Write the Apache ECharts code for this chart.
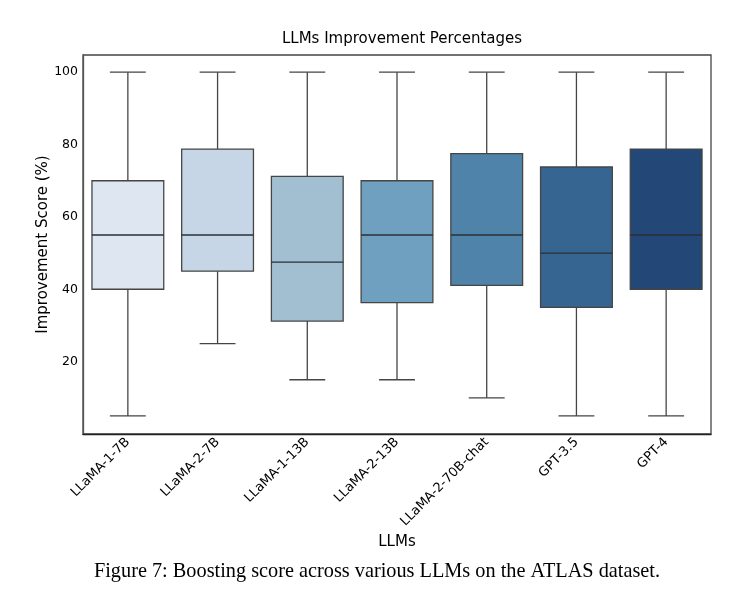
<!DOCTYPE html>
<html>
<head>
<meta charset="utf-8">
<script src="https://cdn.jsdelivr.net/npm/echarts@6/dist/echarts.min.js"></script>
<style>
  html, body { margin: 0; padding: 0; background: #fff; }
  #chart { width: 753px; height: 592px; }
</style>
</head>
<body>
<div id="chart"></div>
<script>
var categories = ['LLaMA-1-7B', 'LLaMA-2-7B', 'LLaMA-1-13B', 'LLaMA-2-13B', 'LLaMA-2-70B-chat', 'GPT-3.5', 'GPT-4'];
var lowWhisker = [5, 25, 15, 15, 10, 5, 5];
var q1 = [40, 45, 31.2, 36.3, 41.1, 35, 40];
var median = [55, 55, 47.5, 55, 55, 50, 55];
var q3 = [70, 78.75, 71.2, 70, 77.5, 73.8, 78.75];
var highWhisker = [100, 100, 100, 100, 100, 100, 100];
var boxColors = ['#dee7f1', '#c6d6e6', '#a1bfd0', '#70a0bf', '#5083a9', '#366592', '#234777'];

var lineColor = '#454545';
var font = 'DejaVu Sans';

var boxData = [];
categories.forEach(function(name, i) {
    boxData.push([i, lowWhisker[i], q1[i], median[i], q3[i], highWhisker[i]]);
});

function renderBox(params, api) {
    var i = api.value(0);
    var band = api.size([1, 0])[0];
    var boxW = band * 0.8;
    var capW = band * 0.4;
    var pLow = api.coord([i, api.value(1)]);
    var pQ1 = api.coord([i, api.value(2)]);
    var pMed = api.coord([i, api.value(3)]);
    var pQ3 = api.coord([i, api.value(4)]);
    var pHigh = api.coord([i, api.value(5)]);
    var x = pMed[0];
    var stroke = { stroke: lineColor, lineWidth: 1.3 };
    return {
        type: 'group',
        children: [
            { type: 'line', shape: { x1: x, y1: pQ1[1], x2: x, y2: pLow[1] }, style: stroke },
            { type: 'line', shape: { x1: x, y1: pQ3[1], x2: x, y2: pHigh[1] }, style: stroke },
            { type: 'line', shape: { x1: x - capW / 2, y1: pLow[1], x2: x + capW / 2, y2: pLow[1] }, style: stroke },
            { type: 'line', shape: { x1: x - capW / 2, y1: pHigh[1], x2: x + capW / 2, y2: pHigh[1] }, style: stroke },
            {
                type: 'rect',
                shape: { x: x - boxW / 2, y: pQ3[1], width: boxW, height: pQ1[1] - pQ3[1] },
                style: { fill: boxColors[i], stroke: lineColor, lineWidth: 1.3 }
            },
            { type: 'line', shape: { x1: x - boxW / 2, y1: pMed[1], x2: x + boxW / 2, y2: pMed[1] }, style: { stroke: '#2a2f36', lineWidth: 1.3 } }
        ]
    };
}

var chart = echarts.init(document.getElementById('chart'));
var option = {
    animation: false,
    title: [
        {
            text: 'LLMs Improvement Percentages',
            left: 397,
            top: 27,
            textAlign: 'center',
            textStyle: { fontFamily: font, fontSize: 15, fontWeight: 'normal', color: '#000' }
        },
        {
            text: 'Figure 7: Boosting score across various LLMs on the ATLAS dataset.',
            left: 372,
            top: 557,
            textAlign: 'center',
            textStyle: { fontFamily: 'Liberation Serif', fontSize: 20.3, fontWeight: 'normal', color: '#000' }
        }
    ],
    grid: {
        left: 83,
        right: 42,
        top: 55,
        bottom: 158,
        show: true,
        borderColor: '#444',
        borderWidth: 1.3
    },
    xAxis: {
        type: 'category',
        data: categories,
        boundaryGap: true,
        name: 'LLMs',
        nameLocation: 'middle',
        nameGap: 101,
        nameMoveOverlap: false,
        nameTextStyle: { fontFamily: font, fontSize: 15, color: '#000' },
        axisLine: { lineStyle: { color: '#222', width: 1.3 } },
        axisTick: { alignWithLabel: true, inside: true, length: 3, lineStyle: { color: '#222' } },
        axisLabel: { rotate: 45, interval: 0, margin: 6, fontFamily: font, fontSize: 13, color: '#000' },
        splitLine: { show: false }
    },
    yAxis: {
        type: 'value',
        min: 0,
        max: 104.75,
        interval: 20,
        name: 'Improvement Score (%)',
        nameLocation: 'middle',
        nameGap: 32,
        nameMoveOverlap: false,
        nameTextStyle: { fontFamily: font, fontSize: 15, color: '#000' },
        axisLine: { show: true, lineStyle: { color: '#555', width: 1.3 } },
        axisTick: { inside: true, length: 3, lineStyle: { color: '#222' } },
        axisLabel: {
            margin: 5,
            fontFamily: font,
            fontSize: 12.5,
            color: '#000',
            showMaxLabel: false,
            formatter: function(v) {
                if (v <= 0 || v % 20 !== 0) return '';
                return String(v);
            }
        },
        splitLine: { show: false }
    },
    series: [
        {
            type: 'custom',
            name: 'Improvement',
            renderItem: renderBox,
            encode: { x: 0, y: [1, 2, 3, 4, 5] },
            data: boxData
        }
    ]
};
chart.setOption(option);
</script>
</body>
</html>
